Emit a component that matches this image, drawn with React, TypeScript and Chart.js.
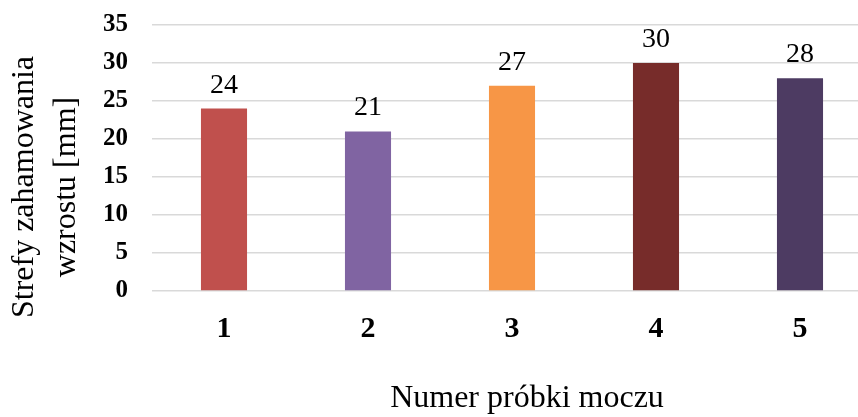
import React, { useEffect, useRef } from "react";
import { Chart, registerables } from "chart.js";

Chart.register(...registerables);

const categories = ["1", "2", "3", "4", "5"];
const values = [24, 21, 27, 30, 28];
const barColors = ["#C0504D", "#8064A2", "#F79646", "#772C2A", "#4D3B62"];
const yTitleLines = ["Strefy zahamowania", "wzrostu [mm]"];
const xTitle = "Numer próbki moczu";

const SERIF = "'Liberation Serif', 'Times New Roman', serif";

const labelsPlugin = {
  id: "valueLabels",
  afterDatasetsDraw(chart: any) {
    const ctx = chart.ctx;
    const meta = chart.getDatasetMeta(0);
    ctx.save();
    ctx.fillStyle = "#000";
    ctx.font = `28px ${SERIF}`;
    ctx.textAlign = "center";
    ctx.textBaseline = "alphabetic";
    meta.data.forEach((bar: any, i: number) => {
      ctx.fillText(String(values[i]), bar.x, bar.y - 16);
    });
    ctx.restore();
  },
  afterDraw(chart: any) {
    const ctx = chart.ctx;
    ctx.save();
    ctx.fillStyle = "#000";
    ctx.font = `32px ${SERIF}`;
    ctx.textAlign = "center";
    ctx.textBaseline = "alphabetic";
    // axis title below the category labels
    ctx.fillText(xTitle, 527, 407);
    // two-line rotated title on the left
    const baselines = [33, 75];
    yTitleLines.forEach((line, i) => {
      ctx.save();
      ctx.translate(baselines[i], 187);
      ctx.rotate(-Math.PI / 2);
      ctx.fillText(line, 0, 0);
      ctx.restore();
    });
    ctx.restore();
  },
};

export default function App() {
  const canvasRef = useRef<HTMLCanvasElement | null>(null);

  useEffect(() => {
    if (!canvasRef.current) return;
    const chart = new Chart(canvasRef.current, {
      type: "bar",
      data: {
        labels: categories,
        datasets: [
          {
            data: values,
            backgroundColor: barColors,
            borderWidth: 0,
            barPercentage: 0.32,
            categoryPercentage: 1,
          },
        ],
      },
      options: {
        responsive: false,
        animation: false,
        devicePixelRatio: 1,
        layout: { padding: { top: 25, right: 8, left: 0, bottom: 0 } },
        plugins: {
          legend: { display: false },
          tooltip: { enabled: false },
        },
        scales: {
          x: {
            grid: { display: false, drawTicks: false },
            border: { display: false },
            ticks: {
              color: "#000",
              padding: 20,
              font: { family: SERIF, size: 30, weight: "bold" },
            },
            afterFit(scale: any) {
              scale.height = 126;
              scale.paddingLeft = 0;
              scale.paddingRight = 0;
            },
          },
          y: {
            min: 0,
            max: 35,
            ticks: {
              stepSize: 5,
              color: "#000",
              padding: 24,
              font: { family: SERIF, size: 25, weight: "bold" },
            },
            grid: { color: "#D9D9D9", lineWidth: 1.5, drawTicks: false },
            border: { display: false },
            afterFit(scale: any) {
              scale.width = 152;
              scale.paddingTop = 0;
              scale.paddingBottom = 0;
            },
          },
        },
      },
      plugins: [labelsPlugin],
    });
    return () => chart.destroy();
  }, []);

  return (
    <div
      style={{
        position: "fixed",
        left: 0,
        top: 0,
        width: 858,
        height: 417,
        overflow: "hidden",
        background: "#fff",
      }}
    >
      <canvas ref={canvasRef} width={880} height={417} style={{ display: "block" }} />
    </div>
  );
}
